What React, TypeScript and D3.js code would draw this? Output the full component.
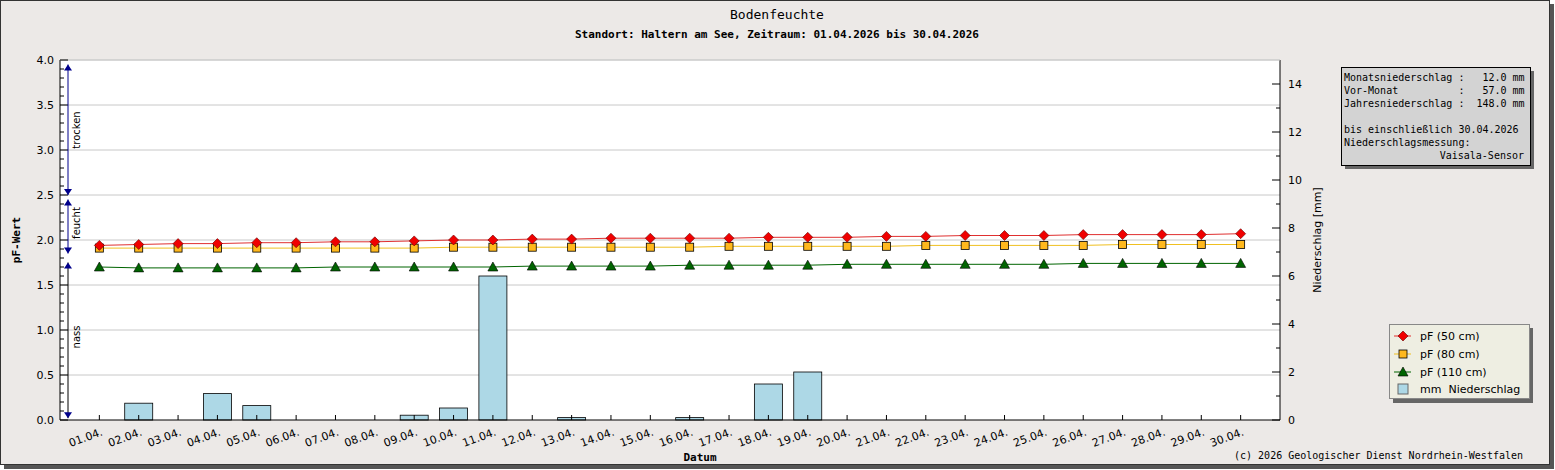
import * as d3 from "d3"

const days = d3.range(1, 31).map((d) => `${String(d).padStart(2, "0")}.04.`)
const pf50 = [1.94, 1.95, 1.96, 1.96, 1.97, 1.97, 1.98, 1.98, 1.99, 2.0, 2.0, 2.01, 2.01, 2.02, 2.02, 2.02, 2.02, 2.03, 2.03, 2.03, 2.04, 2.04, 2.05, 2.05, 2.05, 2.06, 2.06, 2.06, 2.06, 2.07]
const pf80 = [1.91, 1.91, 1.91, 1.91, 1.91, 1.91, 1.91, 1.91, 1.91, 1.92, 1.92, 1.92, 1.92, 1.92, 1.92, 1.92, 1.93, 1.93, 1.93, 1.93, 1.93, 1.94, 1.94, 1.94, 1.94, 1.94, 1.95, 1.95, 1.95, 1.95]
const pf110 = [1.7, 1.69, 1.69, 1.69, 1.69, 1.69, 1.7, 1.7, 1.7, 1.7, 1.7, 1.71, 1.71, 1.71, 1.71, 1.72, 1.72, 1.72, 1.72, 1.73, 1.73, 1.73, 1.73, 1.73, 1.73, 1.74, 1.74, 1.74, 1.74, 1.74]
const rain = [0, 0.7, 0, 1.1, 0.6, 0, 0, 0, 0.2, 0.5, 6.0, 0, 0.1, 0, 0, 0.1, 0, 1.5, 2.0, 0, 0, 0, 0, 0, 0, 0, 0, 0, 0, 0]
const infoLines = [
  "Monatsniederschlag :   12.0 mm",
  "Vor-Monat          :   57.0 mm",
  "Jahresniederschlag :  148.0 mm",
  "",
  "bis einschließlich 30.04.2026",
  "Niederschlagsmessung:",
]

const W = 1555
const H = 470
const L = 60, R = 1280, T = 60, B = 420
const mono = "DejaVu Sans Mono"
const sans = "DejaVu Sans"

export default function App() {
  const step = (R - L) / 31
  const x = (i: number) => L + step * (i + 1)
  const y = d3.scaleLinear().domain([0, 4]).range([B, T])
  const y2 = d3.scaleLinear().domain([0, 15]).range([B, T])
  const line = (vals: number[]) => d3.line<number>().x((_, i) => x(i)).y((v) => y(v))(vals) || ""
  const major = d3.range(0, 4.01, 0.5)
  const minor = d3.range(0, 4.01, 0.1)
  const r2 = d3.range(0, 15, 1)

  const arrow = (yy: number, up: boolean, c: string) => (
    <path d={up ? `M64,${yy + 6} L68,${yy} L72,${yy + 6}Z` : `M64,${yy - 6} L68,${yy} L72,${yy - 6}Z`} fill={c} />
  )

  return (
    <svg width={W} height={H} style={{ position: "absolute", left: 0, top: 0 }}>
      <rect x={0} y={0} width={W} height={H} fill="#fff" />
      <rect x={4} y={4} width={W - 5} height={H - 5} fill="#555" />
      <rect x={0.5} y={0.5} width={W - 6} height={H - 6} fill="#ece9e7" stroke="#333" />
      <text x={777} y={19} textAnchor="middle" fontFamily={mono} fontSize={13}>Bodenfeuchte</text>
      <text x={777} y={38} textAnchor="middle" fontFamily={mono} fontSize={11} fontWeight="bold">Standort: Haltern am See, Zeitraum: 01.04.2026 bis 30.04.2026</text>

      <rect x={L} y={T} width={R - L} height={B - T} fill="#fff" />
      {major.slice(1).map((v) => (
        <line key={v} x1={L} x2={R} y1={y(v)} y2={y(v)} stroke="#c8c8c8" />
      ))}

      {rain.map((v, i) =>
        v > 0 ? (
          <rect key={i} x={x(i) - 14} y={y2(v)} width={28} height={B - y2(v)} fill="#add8e6" stroke="#000" strokeWidth={0.8} />
        ) : null
      )}

      <line x1={L} x2={R} y1={B} y2={B} stroke="#000" />
      <line x1={L} x2={L} y1={T} y2={B} stroke="#000" />
      <line x1={R} x2={R} y1={T} y2={B} stroke="#000" />
      <line x1={L} x2={R} y1={T} y2={T} stroke="#ccc" />

      {minor.map((v) => (
        <line key={v} x1={L} x2={L + (Math.round(v * 10) % 5 === 0 ? 8 : 4)} y1={y(v)} y2={y(v)} stroke="#000" />
      ))}
      {major.map((v) => (
        <text key={v} x={L - 6} y={y(v) + 4} textAnchor="end" fontFamily={sans} fontSize={11}>{v.toFixed(1)}</text>
      ))}
      {r2.map((v) => (
        <line key={v} x1={R} x2={R - (v % 2 === 0 ? 8 : 4)} y1={y2(v)} y2={y2(v)} stroke="#000" />
      ))}
      {r2.filter((v) => v % 2 === 0).map((v) => (
        <text key={v} x={R + 8} y={y2(v) + 4} fontFamily={sans} fontSize={11}>{v}</text>
      ))}

      {days.map((d, i) => (
        <g key={d}>
          <line x1={x(i)} x2={x(i)} y1={B} y2={B - 5} stroke="#000" />
          <text transform={`translate(${x(i) + 4},${B + 15}) rotate(-20)`} textAnchor="end" fontFamily={sans} fontSize={11}>{d}</text>
        </g>
      ))}

      <text x={L + 640} y={461} textAnchor="middle" fontFamily={mono} fontSize={11} fontWeight="bold">Datum</text>
      <text transform={`translate(20,240) rotate(-90)`} textAnchor="middle" fontFamily={mono} fontSize={11} fontWeight="bold">pF-Wert</text>
      <text transform={`translate(1321,240) rotate(-90)`} textAnchor="middle" fontFamily={sans} fontSize={11}>Niederschlag [mm]</text>
      <text x={1523} y={459} textAnchor="end" fontFamily={mono} fontSize={10}>(c) 2026 Geologischer Dienst Nordrhein-Westfalen</text>

      {/* zones */}
      <line x1={68} x2={68} y1={y(3.95)} y2={y(2.5)} stroke="#00008b" />
      {arrow(y(3.95), true, "#00008b")}
      {arrow(y(2.5), false, "#00008b")}
      <line x1={68} x2={68} y1={y(2.45)} y2={y(1.85)} stroke="#00008b" />
      {arrow(y(2.45), true, "#00008b")}
      {arrow(y(1.85), false, "#00008b")}
      <line x1={68} x2={68} y1={y(1.75)} y2={y(0.02)} stroke="#000" />
      {arrow(y(1.75), true, "#00008b")}
      {arrow(y(0.02), false, "#00008b")}
      <text transform={`translate(80,130) rotate(-90)`} textAnchor="middle" fontFamily={sans} fontSize={10}>trocken</text>
      <text transform={`translate(80,223) rotate(-90)`} textAnchor="middle" fontFamily={sans} fontSize={10}>feucht</text>
      <text transform={`translate(80,337) rotate(-90)`} textAnchor="middle" fontFamily={sans} fontSize={10}>nass</text>

      <path d={line(pf110)} fill="none" stroke="#006400" />
      <path d={line(pf80)} fill="none" stroke="#f0c020" />
      <path d={line(pf50)} fill="none" stroke="#e03030" />
      {pf110.map((v, i) => (
        <path key={i} d={`M${x(i) - 5},${y(v) + 4} L${x(i)},${y(v) - 5} L${x(i) + 5},${y(v) + 4}Z`} fill="#006400" stroke="#000" strokeWidth={0.6} />
      ))}
      {pf80.map((v, i) => (
        <rect key={i} x={x(i) - 4} y={y(v) - 4} width={8} height={8} fill="#ffb81c" stroke="#000" strokeWidth={0.8} />
      ))}
      {pf50.map((v, i) => (
        <path key={i} d={`M${x(i)},${y(v) - 5} L${x(i) + 5},${y(v)} L${x(i)},${y(v) + 5} L${x(i) - 5},${y(v)}Z`} fill="#f00000" stroke="#600" strokeWidth={0.6} />
      ))}

      {/* info box */}
      <rect x={1345} y={71} width={189} height={98} fill="#666" />
      <rect x={1341.5} y={67.5} width={189} height={98} fill="#d3d3d3" stroke="#000" />
      {infoLines.map((t, i) => (
        <text key={i} x={1344} y={81 + i * 13} fontFamily={mono} fontSize={10} style={{ whiteSpace: "pre" }}>{t}</text>
      ))}
      <text x={1524} y={159} textAnchor="end" fontFamily={mono} fontSize={10}>Vaisala-Sensor</text>

      {/* legend */}
      <rect x={1393} y={328} width={140} height={75} fill="#666" />
      <rect x={1389.5} y={324.5} width={140} height={74} fill="#eeeee2" stroke="#888" />
      {[
        { l: "pF (50 cm)", c: "#e03030" },
        { l: "pF (80 cm)", c: "#f0c020" },
        { l: "pF (110 cm)", c: "#006400" },
      ].map((e, i) => {
        const cy = 336 + i * 18
        return (
          <g key={e.l}>
            <line x1={1394} x2={1411} y1={cy} y2={cy} stroke={e.c} />
            {i === 0 && <path d={`M1403,${cy - 5} L1408,${cy} L1403,${cy + 5} L1398,${cy}Z`} fill="#f00000" stroke="#600" strokeWidth={0.6} />}
            {i === 1 && <rect x={1399} y={cy - 4} width={8} height={8} fill="#ffb81c" stroke="#000" strokeWidth={0.8} />}
            {i === 2 && <path d={`M1398,${cy + 4} L1403,${cy - 5} L1408,${cy + 4}Z`} fill="#006400" stroke="#000" strokeWidth={0.6} />}
            <text x={1420} y={cy + 4} fontFamily={sans} fontSize={11}>{e.l}</text>
          </g>
        )
      })}
      <rect x={1398} y={384} width={10} height={10} fill="#add8e6" stroke="#666" />
      <text x={1420} y={393} fontFamily={sans} fontSize={11} style={{ whiteSpace: "pre" }}>mm  Niederschlag</text>
    </svg>
  )
}
